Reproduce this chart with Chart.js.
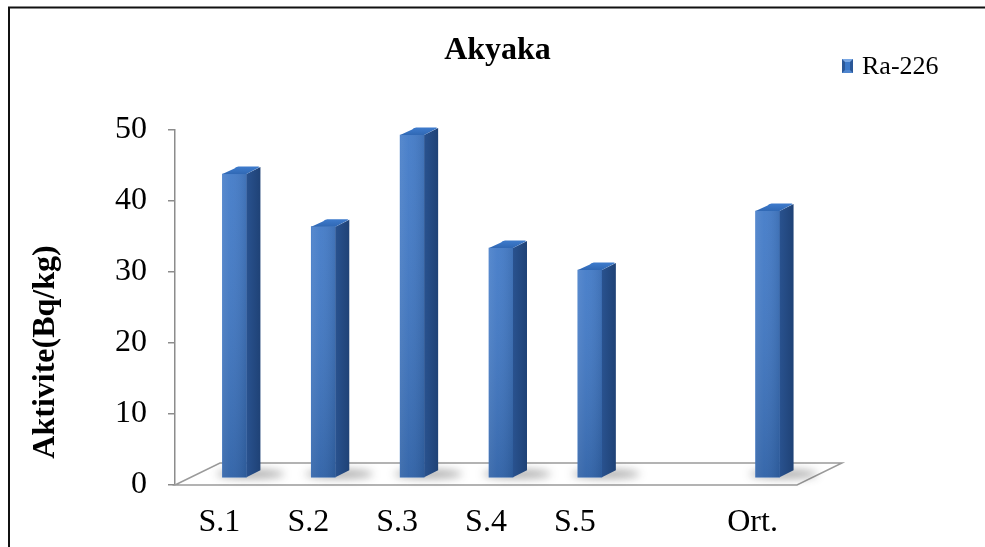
<!DOCTYPE html>
<html>
<head>
<meta charset="utf-8">
<script src="https://cdn.jsdelivr.net/npm/chart.js@4.4.1/dist/chart.umd.min.js"></script>
<style>
  html, body { margin: 0; padding: 0; background: #ffffff; }
  #wrap { width: 985px; height: 547px; position: relative; }
</style>
</head>
<body>
<div id="wrap"><canvas id="c" width="985" height="547"></canvas></div>
<script>
// Sampling points and measured Ra-226 activity (Bq/kg); the empty slot is a spacer before the average.
const categories = ['S.1', 'S.2', 'S.3', 'S.4', 'S.5', '', 'Ort.'];
const ra226 = [42.8, 35.4, 48.3, 32.4, 29.3, null, 37.6];
const yTicks = [0, 10, 20, 30, 40, 50];
const seriesName = 'Ra-226';
const chartTitle = 'Akyaka';
const axisTitle = 'Aktivite(Bq/kg)';

const SERIF = "'Liberation Serif', 'Times New Roman', serif";

// Oblique projection used for the pseudo-3D look
const FLOOR_DEPTH = { dx: 45, dy: -22 };  // full depth of the floor plate
const BAR_SHIFT   = { dx: 15, dy: -7 };   // where the column front sits inside the floor
const BAR_DEPTH   = { dx: 14, dy: -7 };   // thickness of each column

const BAR_FRONT = '#3974c5';

const depth3d = {
  id: 'depth3d',
  beforeDatasetsDraw(chart) {
    const { ctx } = chart;
    const xs = chart.scales.x, ys = chart.scales.y;
    const y0 = ys.getPixelForValue(0);
    const L = xs.left, R = xs.right;

    // floor plate
    ctx.save();
    ctx.beginPath();
    ctx.moveTo(L, y0);
    ctx.lineTo(L + FLOOR_DEPTH.dx, y0 + FLOOR_DEPTH.dy);
    ctx.lineTo(R + FLOOR_DEPTH.dx, y0 + FLOOR_DEPTH.dy);
    ctx.lineTo(R, y0);
    ctx.closePath();
    ctx.fillStyle = '#ffffff';
    ctx.fill();
    ctx.strokeStyle = '#9a9a9a';
    ctx.lineWidth = 1.5;
    ctx.stroke();
    ctx.restore();

    // soft contact shadows on the floor
    const meta = chart.getDatasetMeta(0);
    ctx.save();
    ctx.filter = 'blur(4px)';
    meta.data.forEach((el, i) => {
      if (ra226[i] == null) return;
      const cx = el.x + BAR_SHIFT.dx + 16;
      const cy = y0 + BAR_SHIFT.dy - 4;
      ctx.beginPath();
      ctx.ellipse(cx, cy, 34, 4.5, 0, 0, Math.PI * 2);
      ctx.fillStyle = 'rgba(30,30,30,0.36)';
      ctx.fill();
    });
    ctx.restore();

    // columns are drawn shifted into the floor depth
    ctx.save();
    ctx.translate(BAR_SHIFT.dx, BAR_SHIFT.dy);
  },
  afterDatasetsDraw(chart) {
    const { ctx } = chart;
    const meta = chart.getDatasetMeta(0);
    meta.data.forEach((el, i) => {
      if (ra226[i] == null) return;
      const w = el.width;
      const l = el.x - w / 2, r = el.x + w / 2;
      const t = el.y, b = el.base;
      const { dx, dy } = BAR_DEPTH;

      // shading on the front face
      let g = ctx.createLinearGradient(l, 0, r, 0);
      g.addColorStop(0, 'rgba(255,255,255,0.10)');
      g.addColorStop(0.35, 'rgba(255,255,255,0.04)');
      g.addColorStop(1, 'rgba(0,0,0,0.10)');
      ctx.fillStyle = g;
      ctx.fillRect(l, t, w, b - t);
      g = ctx.createLinearGradient(0, t, 0, b);
      g.addColorStop(0, 'rgba(255,255,255,0.06)');
      g.addColorStop(1, 'rgba(0,0,0,0.14)');
      ctx.fillStyle = g;
      ctx.fillRect(l, t, w, b - t);

      // side face
      ctx.beginPath();
      ctx.moveTo(r, t);
      ctx.lineTo(r + dx, t + dy);
      ctx.lineTo(r + dx, b + dy);
      ctx.lineTo(r, b);
      ctx.closePath();
      g = ctx.createLinearGradient(r, 0, r + dx, 0);
      g.addColorStop(0, '#29528f');
      g.addColorStop(1, '#1f4276');
      ctx.fillStyle = g;
      ctx.fill();

      // top face with a slightly rounded rim
      ctx.beginPath();
      ctx.moveTo(l, t);
      ctx.lineTo(r, t);
      ctx.lineTo(r + dx - 1.5, t + dy + 0.5);
      ctx.quadraticCurveTo(r + dx, t + dy, r + dx - 2, t + dy - 0.5);
      ctx.lineTo(l + dx + 2, t + dy - 0.5);
      ctx.quadraticCurveTo(l + dx - 1, t + dy, l + dx - 2, t + dy + 1.5);
      ctx.closePath();
      g = ctx.createLinearGradient(0, t + dy, 0, t);
      g.addColorStop(0, '#3d7acb');
      g.addColorStop(1, '#3068b4');
      ctx.fillStyle = g;
      ctx.fill();
    });
    ctx.restore();
  },
  afterDraw(chart) {
    const { ctx } = chart;

    // outer frame (left and top edges)
    ctx.save();
    ctx.strokeStyle = '#111111';
    ctx.lineWidth = 2;
    ctx.beginPath();
    ctx.moveTo(9, 547);
    ctx.lineTo(9, 7.5);
    ctx.lineTo(985, 7.5);
    ctx.stroke();
    ctx.restore();

    // vertical axis title
    ctx.save();
    ctx.translate(46, 352);
    ctx.rotate(-Math.PI / 2);
    ctx.font = 'bold 32px ' + SERIF;
    ctx.fillStyle = '#000000';
    ctx.textAlign = 'center';
    ctx.textBaseline = 'middle';
    ctx.fillText(axisTitle, 0, 0);
    ctx.restore();

    // legend entry with a bevelled swatch
    ctx.save();
    const sx = 842, sy = 59, sw = 11, sh = 14, bv = 3;
    ctx.fillStyle = '#2a5797';
    ctx.fillRect(sx, sy, sw, sh);
    ctx.fillStyle = '#7aa8e4';
    ctx.beginPath();
    ctx.moveTo(sx, sy); ctx.lineTo(sx + sw, sy); ctx.lineTo(sx + sw - bv, sy + bv); ctx.lineTo(sx + bv, sy + bv);
    ctx.closePath(); ctx.fill();
    ctx.fillStyle = '#4f86cf';
    ctx.beginPath();
    ctx.moveTo(sx, sy + sh); ctx.lineTo(sx + sw, sy + sh); ctx.lineTo(sx + sw - bv, sy + sh - bv); ctx.lineTo(sx + bv, sy + sh - bv);
    ctx.closePath(); ctx.fill();
    ctx.fillStyle = '#3b78c8';
    ctx.fillRect(sx + bv, sy + bv, sw - 2 * bv, sh - 2 * bv);
    ctx.font = '26px ' + SERIF;
    ctx.fillStyle = '#000000';
    ctx.textAlign = 'left';
    ctx.textBaseline = 'alphabetic';
    ctx.fillText(seriesName, 862, 74);
    ctx.restore();
  }
};

new Chart(document.getElementById('c'), {
  type: 'bar',
  data: {
    labels: categories,
    datasets: [{
      label: seriesName,
      data: ra226,
      backgroundColor: BAR_FRONT,
      borderWidth: 0,
      barThickness: 24,
      clip: false
    }]
  },
  options: {
    responsive: false,
    animation: false,
    devicePixelRatio: 1,
    layout: { padding: { top: 10, left: 10, right: 0, bottom: 0 } },
    plugins: {
      legend: { display: false },
      tooltip: { enabled: false },
      title: {
        display: true,
        text: chartTitle,
        color: '#000000',
        font: { family: SERIF, size: 32, weight: 'bold' },
        padding: { top: 22, bottom: 59.6 }
      }
    },
    scales: {
      x: {
        type: 'category',
        grid: { display: false, drawTicks: false },
        border: { display: false },
        ticks: {
          color: '#000000',
          font: { family: SERIF, size: 32 },
          padding: 18,
          maxRotation: 0,
          autoSkip: false
        },
        afterFit(s) { s.height = 62; }
      },
      y: {
        min: 0,
        max: 50,
        position: 'left',
        afterBuildTicks(s) { s.ticks = yTicks.map(v => ({ value: v })); },
        grid: { drawOnChartArea: false, drawTicks: true, tickLength: 7, color: '#8c8c8c', lineWidth: 1.5 },
        border: { display: true, color: '#8c8c8c', width: 1.5 },
        ticks: { color: '#000000', font: { family: SERIF, size: 32 }, padding: 21 },
        afterFit(s) { s.width = 165; }
      },
      yRight: {
        type: 'linear',
        position: 'right',
        display: true,
        min: 0,
        max: 50,
        grid: { display: false, drawTicks: false },
        border: { display: false },
        ticks: { display: false },
        afterFit(s) { s.width = 188; }
      }
    }
  },
  plugins: [depth3d]
});
</script>
</body>
</html>
